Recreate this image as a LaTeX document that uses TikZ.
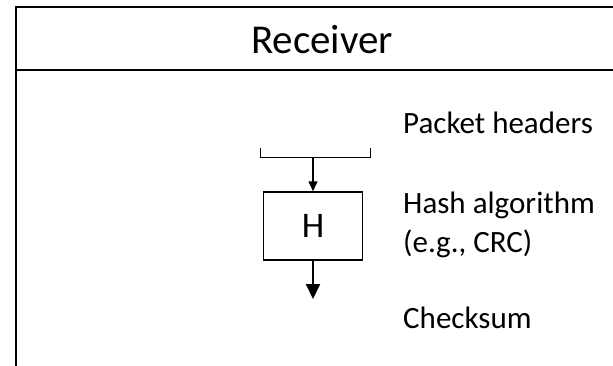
\documentclass[tikz,border=0pt]{standalone}
\usepackage{fontspec}
\setmainfont{Carlito}
\usetikzlibrary{arrows.meta}
\begin{document}
\begin{tikzpicture}[x=1pt,y=-1pt,
  frame/.style={line width=2pt},
  label/.style={anchor=base west,inner sep=0pt,font=\fontsize{31}{36}\selectfont},
  hashbox/.style={draw,line width=1.5pt,minimum width=99pt,minimum height=68pt,inner sep=0pt,font=\fontsize{36}{40}\selectfont},
  flow/.style={-{Triangle[length=10pt,width=9pt]},line width=1.5pt},
  outflow/.style={-{Triangle[length=15pt,width=14pt]},line width=2pt}]
\useasboundingbox (0,0) rectangle (613,365);
% outer frame with title band
\draw[frame] (613,7) -- (16,7) -- (16,366);
\draw[frame] (16,70) -- (613,70);
\node[anchor=base,inner sep=0pt,font=\fontsize{41}{48}\selectfont] (title) at (322,53) {Receiver};
% bracket collecting the header fields
\coordinate (bl) at (260,148);
\coordinate (br) at (370,148);
\coordinate (bm) at (313,157);
\draw[line width=1pt] (bl) -- (260,157) -- (370,157) -- (br);
% hash function block
\node[hashbox] (H) at (313,226) {H};
\coordinate (out) at (313,299);
\draw[flow] (bm) -- (H.north);
\draw[outflow] (H.south) -- (out);
% annotations
\node[label] (hdr) at (403,133) {Packet headers};
\node[label] (alg) at (403,213) {Hash algorithm};
\node[label] (eg) at (403,252) {(e.g., CRC)};
\node[label] (sum) at (403,328) {Checksum};
\end{tikzpicture}
\end{document}
